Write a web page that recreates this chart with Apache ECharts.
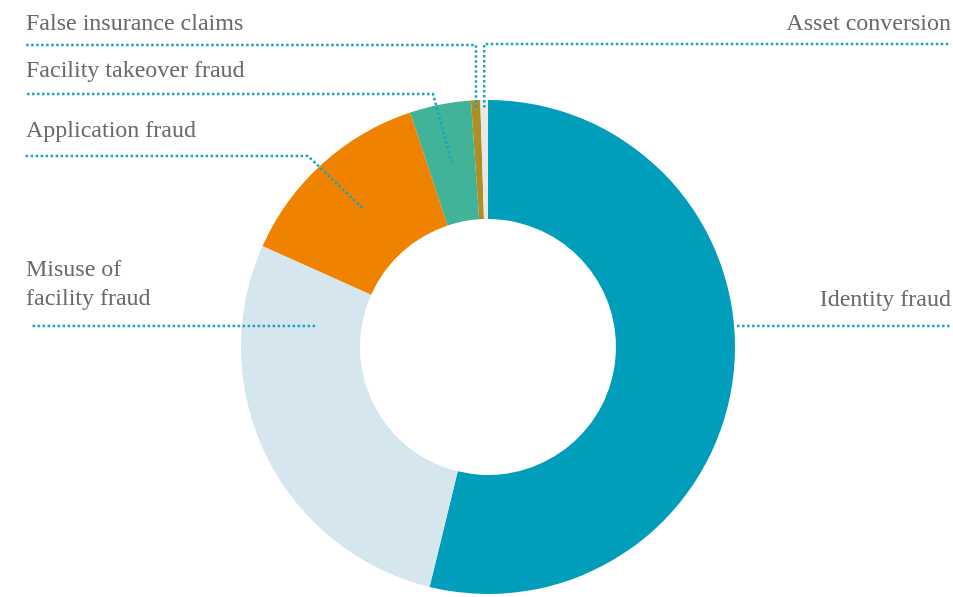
<!DOCTYPE html>
<html><head><meta charset="utf-8">
<script src="https://cdn.jsdelivr.net/npm/echarts@6/dist/echarts.min.js"></script>
<style>html,body{margin:0;padding:0;background:#fff}#c{width:953px;height:597px}</style>
</head><body><div id="c"></div>
<script>
// ---- data ----
const categories = ['Identity fraud', 'Misuse of facility fraud', 'Application fraud', 'Facility takeover fraud', 'False insurance claims', 'Asset conversion'];
const labelTexts = ['Identity fraud', 'Misuse of\nfacility fraud', 'Application fraud', 'Facility takeover fraud', 'False insurance claims', 'Asset conversion'];
const values = [53.8, 27.9, 13.2, 4.0, 0.6, 0.5];
const colors = ['#009eba', '#d6e6ee', '#ef8300', '#41b398', '#ad8f24', '#e8e8e8'];

// ---- layout (pixels) ----
const CX = 488, CY = 347, R_OUT = 247, R_IN = 128;
const LEFT_X = 26, RIGHT_X = 951;
const labelCfg = [
  { side: 'right', textY: 300, lineY: 326, anchor: 'edge' },
  { side: 'left', textY: 284, lineY: 326, lineX: 32, anchor: 'horiz', anchorR: 0.70 },
  { side: 'left', textY: 131, lineY: 156, lineX: 24, anchor: 'mid', kneeX: 308 },
  { side: 'left', textY: 71, lineY: 94, lineX: 26, anchor: 'mid', kneeX: 433 },
  { side: 'left', textY: 24, lineY: 45, lineX: 26, anchor: 'vert' },
  { side: 'right', textY: 24, lineY: 44, anchor: 'vert' }
];

const total = values.reduce((a, b) => a + b, 0);
function midAngle(i) {
  let cum = 0;
  for (let k = 0; k < i; k++) cum += values[k];
  return (cum + values[i] / 2) / total * Math.PI * 2;
}
function polar(theta, r) {
  return [CX + r * Math.sin(theta), CY - r * Math.cos(theta)];
}

const pieData = categories.map((n, i) => ({ name: n, value: values[i], itemStyle: { color: colors[i] } }));
const overlayData = categories.map((n, i) => ({ name: n, value: values[i], itemStyle: { color: 'rgba(0,0,0,0)' } }));

const chart = echarts.init(document.getElementById('c'));
chart.setOption({
  animation: false,
  series: [{
    type: 'pie',
    z: 2,
    center: [CX, CY],
    radius: [R_IN, R_OUT],
    startAngle: 90,
    clockwise: true,
    silent: true,
    label: { show: false },
    labelLine: { show: false },
    data: pieData
  }, {
    type: 'pie',
    z: 5,
    center: [CX, CY],
    radius: [R_IN, R_OUT],
    startAngle: 90,
    clockwise: true,
    avoidLabelOverlap: false,
    silent: true,
    data: overlayData,
    label: {
      show: true,
      position: 'outside',
      formatter: p => labelTexts[p.dataIndex],
      fontFamily: 'Liberation Serif',
      fontSize: 24,
      lineHeight: 29,
      color: '#6f686a'
    },
    labelLine: {
      show: true,
      lineStyle: { color: '#1aa3c1', width: 2.5, type: [2.5, 2.5] }
    },
    labelLayout: function (params) {
      const i = params.dataIndex;
      const c = labelCfg[i];
      const th = midAngle(i);
      const endX = c.side === 'left' ? (c.lineX != null ? c.lineX : LEFT_X) : RIGHT_X;
      let pts;
      if (c.anchor === 'mid') {
        const p = polar(th, (R_OUT + R_IN) / 2);
        pts = [p, [c.kneeX, c.lineY], [endX, c.lineY]];
      } else if (c.anchor === 'vert') {
        const p = polar(th, R_OUT * 0.97);
        pts = [p, [p[0], c.lineY], [endX, c.lineY]];
      } else if (c.anchor === 'horiz') {
        const x = CX - c.anchorR * R_OUT;
        pts = [[x, c.lineY], [x, c.lineY], [endX, c.lineY]];
      } else {
        const dy = c.lineY - CY;
        const x = CX + Math.sqrt(R_OUT * R_OUT - dy * dy) + 3;
        pts = [[x, c.lineY], [x, c.lineY], [endX, c.lineY]];
      }
      return {
        x: c.side === 'left' ? LEFT_X : RIGHT_X,
        y: c.textY,
        align: c.side === 'left' ? 'left' : 'right',
        verticalAlign: 'middle',
        labelLinePoints: pts
      };
    }
  }]
});
</script>
</body></html>
